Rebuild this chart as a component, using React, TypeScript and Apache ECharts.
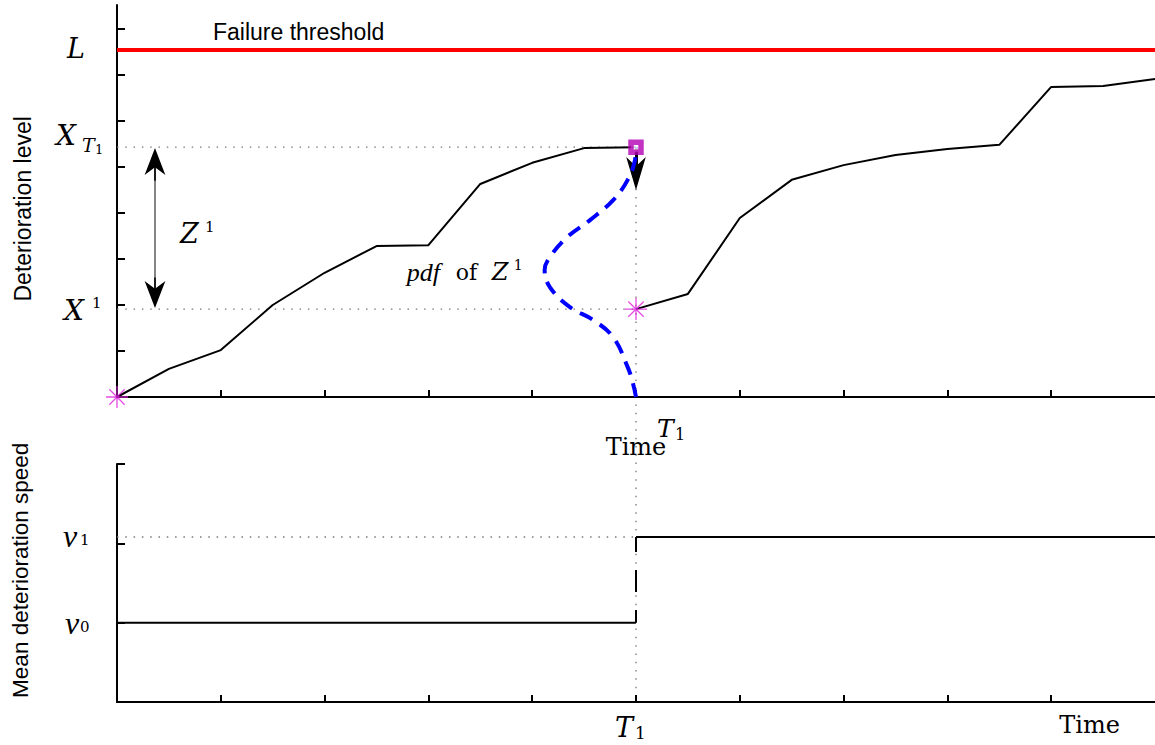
import React, { useEffect, useRef } from 'react';
import * as echarts from 'echarts';

// ---- values ----
const T1 = 5;
const L = 7.54;
const X_T1 = 5.43;
const X1 = 1.91;
const V0 = 1;
const V1 = 2.08;
const Z_ARROW_X = 0.366;
const TIME_LABEL_X = 9.37;
const TOP_Y_MAX = 8.52;
const BOTTOM_Y_MAX = 3;
const X_MAX = 10;
const TOP_NAME_Y = 4.09;
const BOTTOM_NAME_Y = 1.66;

const path1X = [0, 0.5, 1, 1.5, 2, 2.5, 3, 3.5, 4, 4.5, 5];
const path1Y = [0, 0.61, 1.02, 2.0, 2.7, 3.28, 3.3, 4.63, 5.09, 5.41, 5.43];
const path2X = [5, 5.5, 6, 6.5, 7, 7.5, 8, 8.5, 9, 9.5, 10];
const path2Y = [1.91, 2.24, 3.89, 4.72, 5.04, 5.26, 5.39, 5.48, 6.74, 6.76, 6.91];
const pdfX = [5, 4.97, 4.92, 4.78, 4.59, 4.36, 4.17, 4.12, 4.17, 4.34, 4.56, 4.78, 4.92, 4.99, 5];
const pdfY = [0, 0.3, 0.65, 1.3, 1.67, 1.96, 2.39, 2.76, 3.04, 3.48, 3.85, 4.28, 4.72, 5.15, 5.43];
const topYTicks = [1, 2, 3, 4, 5, 6, 7, 8];
const bottomYTicks = [1, 2, 3];
const xTicks = [1, 2, 3, 4, 5, 6, 7, 8, 9];

const zip = (xs: number[], ys: number[]) => xs.map((x, i) => [x, ys[i]]);

const ARROW_Z = 'path://M0,0M26,26M13,0L23,26L13,18.5L3,26Z';
const ARROW_T = 'path://M0,0M32,32M16,0L25.5,32L16,23L6.5,32Z';
const ASTERISK = 'path://M10,0L10,20M0,10L20,10M3,3L17,17M3,17L17,3';

const DOT = { color: '#777', width: 1.3, type: [1.5, 6.8] as any };

export default function App() {
  const ref = useRef<HTMLDivElement>(null);
  useEffect(() => {
    const chart = echarts.init(ref.current!, null, { renderer: 'svg' });
    const axisLine = { onZero: false, lineStyle: { color: '#000', width: 2 } };
    const xAxisBase = (gi: number) => ({
      type: 'value', gridIndex: gi, min: 0, max: X_MAX, interval: 1,
      axisLine, splitLine: { show: false }, axisLabel: { show: false },
      axisTick: { inside: true, length: 7, customValues: xTicks, lineStyle: { color: '#000', width: 2 } },
    });
    const yAxisBase = (gi: number, max: number, ticks: number[]) => ({
      type: 'value', gridIndex: gi, min: 0, max, interval: 1,
      axisLine, splitLine: { show: false }, axisLabel: { show: false },
      axisTick: { inside: true, length: 8, customValues: ticks, lineStyle: { color: '#000', width: 2 } },
    });
    const option: any = {
      animation: false,
      grid: [
        { left: 117, top: 5, width: 1038, height: 392 },
        { left: 117, top: 464, width: 1038, height: 238 },
      ],
      xAxis: [xAxisBase(0), xAxisBase(1)],
      yAxis: [yAxisBase(0, TOP_Y_MAX, topYTicks), yAxisBase(1, BOTTOM_Y_MAX, bottomYTicks)],
      series: [
        { type: 'line', xAxisIndex: 0, yAxisIndex: 0, data: [[0, X_T1], [T1, X_T1]], symbol: 'none', lineStyle: DOT, z: 1 },
        { type: 'line', xAxisIndex: 0, yAxisIndex: 0, data: [[0, X1], [T1, X1]], symbol: 'none', lineStyle: DOT, z: 1 },
        { type: 'line', xAxisIndex: 1, yAxisIndex: 1, data: [[0, V1], [T1, V1]], symbol: 'none', lineStyle: DOT, z: 1 },
        { type: 'line', xAxisIndex: 0, yAxisIndex: 0, data: [[0, L], [X_MAX, L]], symbol: 'none', lineStyle: { color: '#ff0000', width: 4 } },
        { type: 'line', xAxisIndex: 0, yAxisIndex: 0, data: zip(path1X, path1Y), symbol: 'none', lineStyle: { color: '#000', width: 2 } },
        { type: 'line', xAxisIndex: 0, yAxisIndex: 0, data: zip(path2X, path2Y), symbol: 'none', lineStyle: { color: '#000', width: 2 } },
        { type: 'line', xAxisIndex: 0, yAxisIndex: 0, data: zip(pdfX, pdfY), symbol: 'none', smooth: 0.4,
          lineStyle: { color: '#0000ff', width: 4, type: [14, 9] } },
        { type: 'lines', coordinateSystem: 'cartesian2d', xAxisIndex: 0, yAxisIndex: 0, symbol: 'none',
          lineStyle: { color: '#666', width: 1.6, opacity: 1 },
          data: [{ coords: [[Z_ARROW_X, X1 + 0.1], [Z_ARROW_X, X_T1 - 0.1]] }] },
        { type: 'lines', coordinateSystem: 'cartesian2d', xAxisIndex: 0, yAxisIndex: 0, symbol: ['none', ARROW_Z], symbolSize: 27,
          lineStyle: { color: '#000', width: 1.6, opacity: 1 },
          data: [
            { coords: [[Z_ARROW_X, 4.7], [Z_ARROW_X, X_T1 - 0.31]] },
            { coords: [[Z_ARROW_X, 2.6], [Z_ARROW_X, X1 + 0.32]] },
          ] },
        { type: 'lines', coordinateSystem: 'cartesian2d', xAxisIndex: 0, yAxisIndex: 0, symbol: ['none', ARROW_T], symbolSize: 33,
          lineStyle: { color: '#000', width: 3, opacity: 1 },
          data: [{ coords: [[T1, X_T1], [T1, 4.86]] }] },
        { type: 'scatter', xAxisIndex: 0, yAxisIndex: 0, data: [[T1, X_T1]], symbol: 'rect', symbolSize: 10,
          itemStyle: { color: '#fff', borderColor: '#b400b4', borderWidth: 5.5 }, z: 5 },
        { type: 'scatter', xAxisIndex: 0, yAxisIndex: 0, data: [[0, 0], [T1, X1]], symbol: ASTERISK, symbolSize: 22,
          itemStyle: { color: 'none', borderColor: '#e020e0', borderWidth: 1.3 }, z: 5 },
        { type: 'line', xAxisIndex: 1, yAxisIndex: 1, data: [[0, V0], [T1, V0]], symbol: 'none', lineStyle: { color: '#000', width: 2 } },
        { type: 'line', xAxisIndex: 1, yAxisIndex: 1, data: [[T1, V1], [X_MAX, V1]], symbol: 'none', lineStyle: { color: '#000', width: 2 } },
        { type: 'line', xAxisIndex: 1, yAxisIndex: 1, data: [[T1, V1], [T1, V0]], symbol: 'none',
          lineStyle: { color: '#000', width: 2, type: [15, 18, 22, 18] } },
      ],
    };
    chart.setOption(option);

    const p = (g: number, x: number, y: number) => chart.convertToPixel({ gridIndex: g } as any, [x, y]) as number[];
    const IT = (s: number) => `italic ${s}px "DejaVu Serif"`;
    const LIT = (s: number) => `italic ${s}px "Liberation Serif"`;
    const RM = (s: number) => `${s}px "DejaVu Serif"`;
    const SANS = (s: number) => `${s}px "Liberation Sans"`;
    const t = (anchor: number[], dx: number, dy: number, text: string, font: string, align = 'left', rotation = 0) => ({
      type: 'text', x: anchor[0] + dx, y: anchor[1] + dy, rotation, silent: true, z: 10,
      style: { text, font, fill: '#000', textAlign: align, textVerticalAlign: 'middle', align, verticalAlign: 'middle' },
    });

    const aL = p(0, 0, L);
    const aXT = p(0, 0, X_T1);
    const aX1 = p(0, 0, X1);
    const aZ = p(0, Z_ARROW_X, (X1 + X_T1) / 2);
    const aPdf = p(0, 4.12, 2.76);
    const aT1top = p(0, T1, 0);
    const aV1 = p(1, 0, V1);
    const aV0 = p(1, 0, V0);
    const aT1bot = p(1, T1, 0);
    const aTime = p(1, TIME_LABEL_X, 0);
    const aNameTop = p(0, 0, TOP_NAME_Y);
    const aNameBot = p(1, 0, BOTTOM_NAME_Y);
    const vTop = p(0, T1, X_T1);
    const vEnd = p(1, T1, 0);

    const elements: any[] = [
      { type: 'line', z: 0, silent: true, shape: { x1: vTop[0], y1: vTop[1], x2: vEnd[0], y2: vEnd[1] },
        style: { stroke: '#777', lineWidth: 1.3, lineDash: [1.5, 6.8] } },
      t(aNameTop, -94, 0, 'Deterioration level', SANS(23), 'center', Math.PI / 2),
      t(aNameBot, -97, 0, 'Mean deterioration speed', SANS(22.5), 'center', Math.PI / 2),
      t(aL, 96, -18, 'Failure threshold', SANS(23)),
      t(aL, -50, -2, 'L', IT(27)),
      t(aXT, -61, -12, 'X', IT(28)),
      t(aXT, -35, -2, 'T', IT(19)),
      t(aXT, -22, 2, '1', RM(13)),
      t(aX1, -53, 1, 'X', IT(28)),
      t(aX1, -25, -6, '1', RM(15)),
      t(aZ, 25, 5, 'Z', IT(27)),
      t(aZ, 50, -1, '1', RM(15)),
      t(aPdf, -138, 2, 'pdf', LIT(26)),
      t(aPdf, -89, 2, 'of', RM(22)),
      t(aPdf, -53, 2, 'Z', IT(24)),
      t(aPdf, -31, -5, '1', RM(14)),
      t(aT1top, 0, 50, 'Time', RM(24), 'center'),
      t(aT1top, 21, 31, 'T', IT(25)),
      t(aT1top, 39, 37, '1', RM(16)),
      t(aV1, -54, -1, 'v', LIT(32)),
      t(aV1, -37, 3, '1', RM(15)),
      t(aV0, -52, 0, 'v', LIT(32)),
      t(aV0, -37, 4, '0', RM(15)),
      t(aT1bot, -21, 25, 'T', IT(27)),
      t(aT1bot, -1, 31, '1', RM(17)),
      t(aTime, 0, 23, 'Time', RM(24), 'center'),
    ];
    chart.setOption({ graphic: { elements } });
    return () => chart.dispose();
  }, []);
  return <div ref={ref} style={{ position: 'absolute', left: 0, top: 0, width: 1155, height: 745 }} />;
}
